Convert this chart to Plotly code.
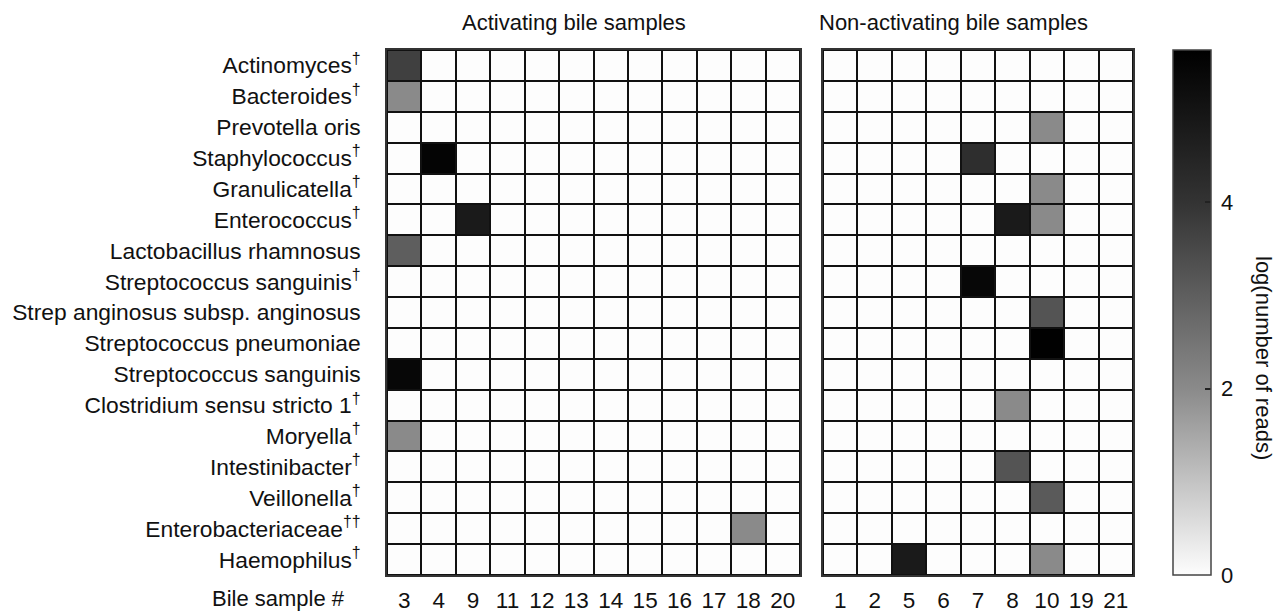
import plotly.graph_objects as go

taxa = [
    "Actinomyces<sup>†</sup>", "Bacteroides<sup>†</sup>", "Prevotella oris",
    "Staphylococcus<sup>†</sup>", "Granulicatella<sup>†</sup>", "Enterococcus<sup>†</sup>",
    "Lactobacillus rhamnosus", "Streptococcus sanguinis<sup>†</sup>",
    "Strep anginosus subsp. anginosus", "Streptococcus pneumoniae",
    "Streptococcus sanguinis", "Clostridium sensu stricto 1<sup>†</sup>",
    "Moryella<sup>†</sup>", "Intestinibacter<sup>†</sup>", "Veillonella<sup>†</sup>",
    "Enterobacteriaceae<sup>††</sup>", "Haemophilus<sup>†</sup>",
]
act_samples = ["3", "4", "9", "11", "12", "13", "14", "15", "16", "17", "18", "20"]
non_samples = ["1", "2", "5", "6", "7", "8", "10", "19", "21"]

# log(number of reads), activating samples (rows = taxa, cols = act_samples)
act_values = [
    [3.7, 0, 0, 0, 0, 0, 0, 0, 0, 0, 0, 0],
    [2.0, 0, 0, 0, 0, 0, 0, 0, 0, 0, 0, 0],
    [0, 0, 0, 0, 0, 0, 0, 0, 0, 0, 0, 0],
    [0, 5.5, 0, 0, 0, 0, 0, 0, 0, 0, 0, 0],
    [0, 0, 0, 0, 0, 0, 0, 0, 0, 0, 0, 0],
    [0, 0, 4.8, 0, 0, 0, 0, 0, 0, 0, 0, 0],
    [3.0, 0, 0, 0, 0, 0, 0, 0, 0, 0, 0, 0],
    [0, 0, 0, 0, 0, 0, 0, 0, 0, 0, 0, 0],
    [0, 0, 0, 0, 0, 0, 0, 0, 0, 0, 0, 0],
    [0, 0, 0, 0, 0, 0, 0, 0, 0, 0, 0, 0],
    [5.4, 0, 0, 0, 0, 0, 0, 0, 0, 0, 0, 0],
    [0, 0, 0, 0, 0, 0, 0, 0, 0, 0, 0, 0],
    [2.0, 0, 0, 0, 0, 0, 0, 0, 0, 0, 0, 0],
    [0, 0, 0, 0, 0, 0, 0, 0, 0, 0, 0, 0],
    [0, 0, 0, 0, 0, 0, 0, 0, 0, 0, 0, 0],
    [0, 0, 0, 0, 0, 0, 0, 0, 0, 0, 2.0, 0],
    [0, 0, 0, 0, 0, 0, 0, 0, 0, 0, 0, 0],
]

# log(number of reads), non-activating samples (rows = taxa, cols = non_samples)
non_values = [
    [0, 0, 0, 0, 0, 0, 0, 0, 0],
    [0, 0, 0, 0, 0, 0, 0, 0, 0],
    [0, 0, 0, 0, 0, 0, 2.0, 0, 0],
    [0, 0, 0, 0, 4.15, 0, 0, 0, 0],
    [0, 0, 0, 0, 0, 0, 2.0, 0, 0],
    [0, 0, 0, 0, 0, 4.8, 2.0, 0, 0],
    [0, 0, 0, 0, 0, 0, 0, 0, 0],
    [0, 0, 0, 0, 5.4, 0, 0, 0, 0],
    [0, 0, 0, 0, 0, 0, 3.25, 0, 0],
    [0, 0, 0, 0, 0, 0, 5.6, 0, 0],
    [0, 0, 0, 0, 0, 0, 0, 0, 0],
    [0, 0, 0, 0, 0, 2.0, 0, 0, 0],
    [0, 0, 0, 0, 0, 0, 0, 0, 0],
    [0, 0, 0, 0, 0, 3.25, 0, 0, 0],
    [0, 0, 0, 0, 0, 0, 3.1, 0, 0],
    [0, 0, 0, 0, 0, 0, 0, 0, 0],
    [0, 0, 4.8, 0, 0, 0, 2.0, 0, 0],
]

ZMAX = 5.63
W, H = 1277, 613
ML, MR, MT, MB = 0, 0, 50, 38
FONT = "Liberation Sans, Arial, sans-serif"
TXT = "#111111"

colorscale = [
    [0.0, "rgb(253,253,253)"],
    [0.355, "rgb(138,138,138)"],
    [0.71, "rgb(51,51,51)"],
    [1.0, "rgb(0,0,0)"],
]


def px_x(p):
    return (p - ML) / (W - ML - MR)


def px_y(p):
    return (H - MB - p) / (H - MT - MB)


fig = go.Figure()
fig.add_trace(go.Heatmap(
    z=act_values, x=act_samples, y=taxa, xaxis="x", yaxis="y",
    colorscale=colorscale, zmin=0, zmax=ZMAX, xgap=2, ygap=2,
    showscale=False, hoverongaps=False,
))
fig.add_trace(go.Heatmap(
    z=non_values, x=non_samples, y=taxa, xaxis="x2", yaxis="y2",
    colorscale=colorscale, zmin=0, zmax=ZMAX, xgap=2, ygap=2,
    showscale=True,
    colorbar=dict(
        x=px_x(1173), xanchor="left", xpad=0, ypad=0,
        thickness=38, thicknessmode="pixels",
        len=1.0, lenmode="fraction", y=0.5, yanchor="middle",
        outlinecolor="#444444", outlinewidth=1.5,
        tickvals=[0, 2, 4], ticktext=["\u20090", "\u20092", "\u20094"],
        ticks="inside", ticklen=6, tickcolor="#222222", tickwidth=1.5,
        tickfont=dict(family=FONT, size=22, color=TXT),
    ),
))

axis_common = dict(
    type="category", showgrid=False, zeroline=False,
    showline=True, linecolor="#333333", linewidth=1.5, mirror=True,
    ticks="", fixedrange=True,
)
fig.update_layout(
    width=W, height=H,
    margin=dict(l=ML, r=MR, t=MT, b=MB, autoexpand=False),
    paper_bgcolor="white", plot_bgcolor="#111111",
    font=dict(family=FONT, size=22, color=TXT),
    xaxis=dict(domain=[px_x(387), px_x(800)], anchor="y",
               tickfont=dict(size=22.5), ticklabelstandoff=4, automargin=False,
               **axis_common),
    xaxis2=dict(domain=[px_x(823), px_x(1133)], anchor="y2",
                tickfont=dict(size=22.5), ticklabelstandoff=4, automargin=False,
                **axis_common),
    yaxis=dict(domain=[0, 1], anchor="x", autorange="reversed",
               tickfont=dict(size=22.8), ticklabelstandoff=20, automargin=False,
               **axis_common),
    yaxis2=dict(domain=[0, 1], anchor="x2", autorange="reversed",
                matches="y", showticklabels=False, automargin=False,
                **axis_common),
    showlegend=False,
)

fig.add_annotation(text="Activating bile samples", xref="paper", yref="paper",
                   x=px_x(574), y=px_y(22), xanchor="center", yanchor="middle",
                   showarrow=False, font=dict(size=22))
fig.add_annotation(text="Non-activating bile samples", xref="paper", yref="paper",
                   x=px_x(953), y=px_y(22), xanchor="center", yanchor="middle",
                   showarrow=False, font=dict(size=22))
fig.add_annotation(text="Bile sample #", xref="paper", yref="paper",
                   x=px_x(347), y=px_y(598), xanchor="right", yanchor="middle",
                   showarrow=False, font=dict(size=22))
fig.add_annotation(text="log(number of reads)", xref="paper", yref="paper",
                   x=px_x(1264), y=px_y(358), xanchor="center", yanchor="middle",
                   textangle=90, showarrow=False, font=dict(size=22))

fig.write_html("out.html", config={"displayModeBar": False},
               post_script="document.body.style.margin='0px';document.body.style.overflow='hidden';")
